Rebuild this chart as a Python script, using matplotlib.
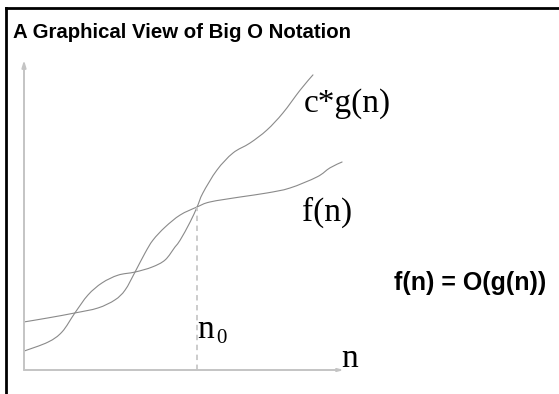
import matplotlib
matplotlib.use("Agg")
import matplotlib.pyplot as plt
from matplotlib.lines import Line2D
from matplotlib.path import Path
from matplotlib.patches import PathPatch
import numpy as np

# curve points (arbitrary units, axes run 0..10)
f_n = [0.0, 0.75, 1.59, 2.31, 2.84, 3.16, 3.47, 3.78, 4.03, 4.41, 4.88, 5.41,
       5.81, 6.75, 7.59, 8.31, 9.16, 9.56, 9.94]
f_val = [1.55, 1.68, 1.84, 2.00, 2.26, 2.58, 3.16, 3.77, 4.19, 4.61, 5.00, 5.26,
         5.42, 5.58, 5.71, 5.87, 6.23, 6.52, 6.71]

cg_n = [0.0, 0.75, 1.19, 1.59, 2.00, 2.44, 2.94, 3.47, 4.00, 4.41, 4.72, 4.88,
        5.19, 5.41, 5.59, 6.03, 6.53, 7.06, 7.59, 8.09, 8.63, 9.03]
cg_val = [0.61, 0.90, 1.23, 1.84, 2.42, 2.81, 3.06, 3.16, 3.32, 3.55, 3.97, 4.19,
          4.77, 5.26, 5.71, 6.45, 7.00, 7.32, 7.74, 8.29, 9.03, 9.52]

n0 = 5.41
f_at_n0 = 5.26


def smooth_path(xs, ys):
    # bezier path through the points (catmull-rom tangents)
    p = np.column_stack([xs, ys])
    verts = [p[0]]
    codes = [Path.MOVETO]
    for i in range(len(p) - 1):
        p0 = p[i - 1] if i > 0 else p[i]
        p3 = p[i + 2] if i + 2 < len(p) else p[i + 1]
        c1 = p[i] + (p[i + 1] - p0) / 6
        c2 = p[i + 1] - (p3 - p[i]) / 6
        verts += [c1, c2, p[i + 1]]
        codes += [Path.CURVE4] * 3
    return Path(verts, codes)


W, H = 559, 394
fig = plt.figure(figsize=(W / 100, H / 100), dpi=100)
fig.patch.set_facecolor("white")

# inner plot area (y axis at px 24, x axis at px 370)
ax = fig.add_axes([24 / W, (H - 370) / H, 320 / W, 310 / H])
ax.set_xlim(0, 10)
ax.set_ylim(0, 10)
ax.axis("off")

axis_col = "#c4c4c4"
curve_col = "#8a8a8a"

ax.annotate("", xy=(0, 10), xytext=(0, 0),
            arrowprops=dict(arrowstyle="-|>,head_length=0.4,head_width=0.12",
                            color=axis_col, lw=1.4, shrinkA=0, shrinkB=0))
ax.annotate("", xy=(10, 0), xytext=(0, 0),
            arrowprops=dict(arrowstyle="-|>,head_length=0.3,head_width=0.08",
                            color=axis_col, lw=1.4, shrinkA=0, shrinkB=0))

for xs, ys in [(f_n, f_val), (cg_n, cg_val)]:
    ax.add_patch(PathPatch(smooth_path(xs, ys), fill=False, edgecolor=curve_col,
                           lw=0.8, capstyle="round", joinstyle="round"))
ax.vlines(n0, 0, f_at_n0, colors="#c8c8c8", linestyles=(0, (3, 2.5)), lw=1.3)

serif = ["Liberation Serif", "DejaVu Serif"]
ax.text(8.75, 8.58, "c*g(n)", family=serif, fontsize=24, va="center", ha="left")
ax.text(8.69, 5.10, "f(n)", family=serif, fontsize=24, va="center", ha="left")
ax.text(5.41, 1.29, "n", family=serif, fontsize=24, va="center", ha="left")
ax.annotate("0", xy=(5.41, 1.29), xytext=(14, -6), textcoords="offset points",
            family=serif, fontsize=15, va="center", ha="left")
ax.text(9.9, 0.1, "n", family=serif, fontsize=24, va="baseline", ha="left",
        clip_on=False)

sans = ["Liberation Sans", "DejaVu Sans"]
fig.text(13 / W, 1 - 33 / H, "A Graphical View of Big O Notation", family=sans,
         fontsize=14.7, fontweight="bold", va="center", ha="left")
fig.text(394 / W, 1 - 283 / H, "f(n) = O(g(n))", family=sans, fontsize=18,
         fontweight="bold", va="center", ha="left")

# black frame on top and left edge
fig.add_artist(Line2D([6 / W, 1], [1 - 8 / H, 1 - 8 / H], color="black", lw=2,
                      transform=fig.transFigure))
fig.add_artist(Line2D([6 / W, 6 / W], [0, 1 - 8 / H], color="black", lw=2,
                      transform=fig.transFigure))

fig.savefig("out.png", dpi=100)
